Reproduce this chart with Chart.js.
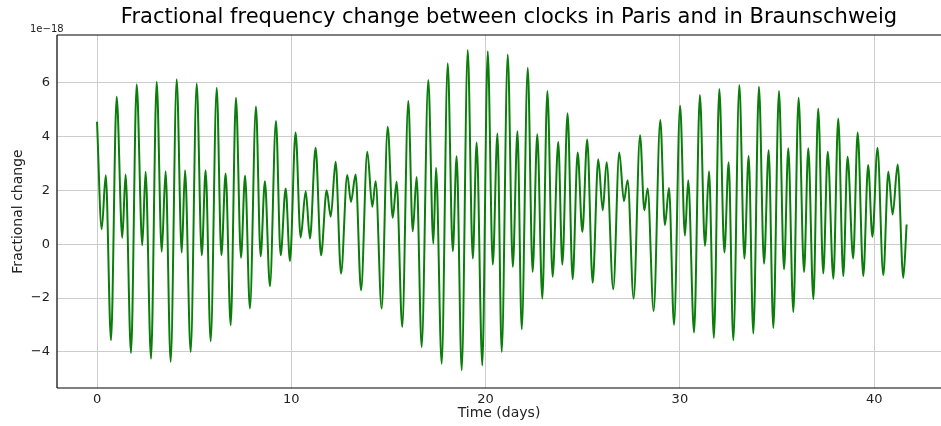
<!DOCTYPE html>
<html>
<head>
<meta charset="utf-8">
<script src="https://cdn.jsdelivr.net/npm/chart.js@4"></script>
<style>
  html, body { margin: 0; padding: 0; background: #fff; }
  #wrap { width: 941px; height: 426px; position: relative; }
</style>
</head>
<body>
<div id="wrap"><canvas id="clockChart"></canvas></div>
<script>
// valeurs (extrema de la courbe), unité 1e-18
const days = [0,0.24,0.45,0.72,1.01,1.30,1.47,1.75,2.04,2.33,2.50,2.78,3.07,3.33,3.53,3.79,4.10,4.36,4.53,4.82,
  5.13,5.39,5.59,5.85,6.16,6.40,6.62,6.88,7.15,7.41,7.62,7.87,8.18,8.42,8.64,8.90,9.21,9.45,9.71,9.93,
  10.22,10.48,10.74,10.96,11.25,11.53,11.82,12.03,12.28,12.56,12.88,13.07,13.31,13.59,13.91,14.17,14.34,14.65,14.96,15.22,
  15.42,15.71,16.02,16.25,16.45,16.71,17.05,17.31,17.45,17.74,18.05,18.31,18.51,18.77,19.08,19.34,19.54,19.83,20.11,20.37,
  20.61,20.83,21.14,21.40,21.64,21.86,22.17,22.42,22.66,22.92,23.18,23.45,23.74,23.95,24.22,24.48,24.74,24.98,25.23,25.51,
  25.80,26.03,26.23,26.57,26.88,27.12,27.31,27.62,27.95,28.17,28.34,28.65,28.99,29.23,29.44,29.70,30.01,30.26,30.43,30.73,
  31.03,31.29,31.50,31.75,32.03,32.29,32.51,32.75,33.06,33.32,33.54,33.78,34.07,34.33,34.57,34.81,35.10,35.36,35.58,35.84,
  36.11,36.39,36.61,36.87,37.12,37.38,37.61,37.90,38.15,38.41,38.63,38.92,39.15,39.44,39.69,39.91,40.17,40.47,40.73,40.95,
  41.21,41.50,41.67];
const fracChange = [4.55,0.56,2.56,-3.57,5.48,0.24,2.59,-4.04,5.94,-0.04,2.69,-4.25,6.03,-0.28,2.71,-4.37,6.13,-0.31,2.75,-4.0,
  5.97,-0.41,2.75,-3.6,5.81,-0.41,2.63,-3.01,5.44,-0.5,2.54,-2.39,5.11,-0.45,2.34,-1.56,4.58,-0.41,2.07,-0.62,
  4.15,0.25,1.97,0.21,3.58,-0.41,2.0,1.02,3.06,-1.09,2.57,1.57,2.59,-1.71,3.43,1.39,2.34,-2.39,4.36,0.98,
  2.32,-3.07,5.32,0.48,2.5,-3.82,6.1,0.02,2.84,-4.44,6.72,-0.26,3.27,-4.68,7.21,-0.53,3.78,-4.5,7.17,-0.76,
  4.11,-4.0,7.05,-0.84,4.2,-3.16,6.55,-1.03,4.08,-2.02,5.69,-1.21,3.8,-0.76,4.86,-1.3,3.41,0.46,3.89,-1.43,
  3.16,1.26,3.04,-1.67,3.41,1.6,2.38,-2.02,4.05,1.26,2.07,-2.48,4.61,0.71,2.09,-2.99,5.14,0.32,2.38,-3.28,
  5.54,-0.06,2.71,-3.48,5.76,-0.31,3.04,-3.57,5.91,-0.53,3.28,-3.32,5.85,-0.72,3.49,-3.11,5.69,-0.93,3.56,-2.52,
  5.44,-1.03,3.56,-2.04,5.04,-1.09,3.43,-1.28,4.67,-1.18,3.25,-0.53,4.15,-1.18,2.94,0.27,3.58,-1.15,2.69,1.1,
  2.96,-1.25,0.73];
const xTicks = [0, 10, 20, 30, 40];
const yTicks = [-4, -2, 0, 2, 4, 6];

const FONT = "'DejaVu Sans', sans-serif";

// titre, cadre et "1e-18" dessinés à la main (style matplotlib)
const decorPlugin = {
  id: 'decor',
  afterDraw(chart) {
    const ctx = chart.ctx;
    const a = chart.chartArea;
    ctx.save();
    ctx.strokeStyle = '#000';
    ctx.lineWidth = 1.2;
    ctx.beginPath();
    ctx.moveTo(a.left, a.top); ctx.lineTo(a.right, a.top);
    ctx.moveTo(a.left, a.top); ctx.lineTo(a.left, a.bottom);
    ctx.moveTo(a.left, a.bottom); ctx.lineTo(a.right, a.bottom);
    ctx.stroke();

    ctx.fillStyle = '#000';
    ctx.textBaseline = 'middle';
    ctx.textAlign = 'center';
    ctx.font = '21px ' + FONT;
    ctx.fillText('Fractional frequency change between clocks in Paris and in Braunschweig', 509, 18);

    ctx.fillStyle = '#222';
    ctx.textAlign = 'left';
    ctx.font = '10px ' + FONT;
    ctx.fillText('1e\u221218', 30, 29);
    ctx.restore();
  }
};

const minusLabel = v => String(v).replace('-', '\u2212');

new Chart(document.getElementById('clockChart'), {
  type: 'line',
  data: {
    datasets: [{
      label: 'Fractional change',
      data: days.map((d, i) => ({ x: d, y: fracChange[i] })),
      borderColor: '#0b7d0b',
      borderWidth: 2,
      pointRadius: 0,
      fill: false,
      cubicInterpolationMode: 'monotone'
    }]
  },
  options: {
    responsive: true,
    maintainAspectRatio: false,
    animation: false,
    layout: { padding: { top: 35, right: 0, left: 0, bottom: 0 } },
    plugins: {
      legend: { display: false },
      title: { display: false },
      tooltip: { enabled: false }
    },
    scales: {
      x: {
        type: 'linear',
        min: -2.06,
        max: 43.44,
        afterBuildTicks: s => { s.ticks = xTicks.map(v => ({ value: v })); },
        afterFit: s => { s.height = 38; },
        grid: { color: '#cccccc', lineWidth: 1, drawTicks: false },
        border: { display: false },
        ticks: { color: '#222', padding: 4, font: { family: FONT, size: 13 }, callback: minusLabel },
        title: {
          display: true,
          text: 'Time (days)',
          color: '#222',
          font: { family: FONT, size: 14 },
          padding: { top: 0, bottom: 4 }
        }
      },
      y: {
        min: -5.34,
        max: 7.77,
        afterBuildTicks: s => { s.ticks = yTicks.map(v => ({ value: v })); },
        afterFit: s => { s.width = 57; },
        grid: { color: '#cccccc', lineWidth: 1, drawTicks: false },
        border: { display: false },
        ticks: { color: '#222', padding: 7, font: { family: FONT, size: 13 }, callback: minusLabel },
        title: {
          display: true,
          text: 'Fractional change',
          color: '#222',
          font: { family: FONT, size: 14 },
          padding: { top: 10, bottom: 0 }
        }
      }
    }
  },
  plugins: [decorPlugin]
});
</script>
</body>
</html>
